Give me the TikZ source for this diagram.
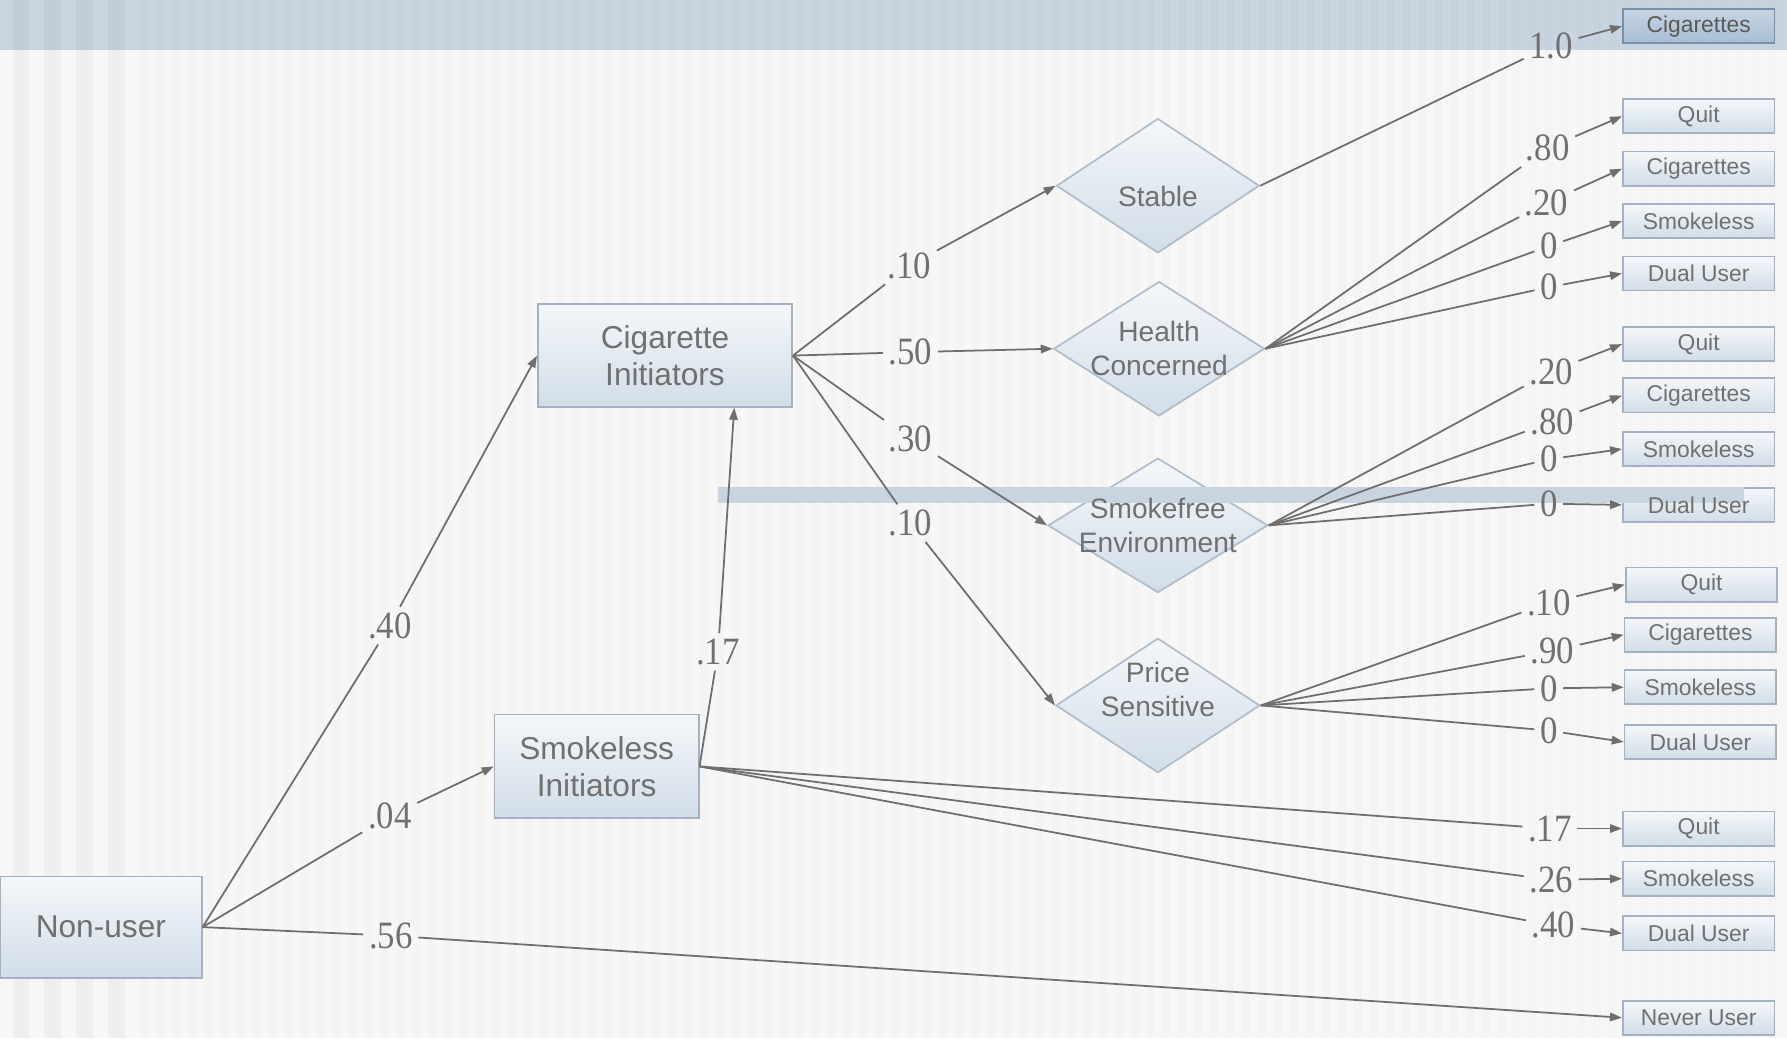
\documentclass[tikz,border=0pt]{standalone}
\usepackage{fontspec}
\setmainfont{Liberation Sans}
\newfontfamily\numfont[FakeStretch=0.9]{Liberation Serif}
\usetikzlibrary{arrows.meta,shapes.geometric}
\definecolor{bgG}{HTML}{F7F7F7}
\definecolor{bandB}{HTML}{C8D5E1}
\definecolor{lineG}{HTML}{6E6E6E}
\definecolor{textG}{HTML}{707070}
\definecolor{boxT}{HTML}{F4F7FA}
\definecolor{boxB}{HTML}{D1DDE8}
\definecolor{boxE}{HTML}{A2B2C3}
\definecolor{topT}{HTML}{C6D5E4}
\definecolor{topB}{HTML}{A8BCD2}
\definecolor{topE}{HTML}{7891AB}
\newdimen\upx \upx=0.11397mm

\tikzset{
  bigbox/.style={rectangle,draw=boxE,line width=0.5pt,top color=boxT,bottom color=boxB,text=textG,
    font=\fontsize{9}{10.4}\selectfont,align=center,inner sep=0pt},
  endbox/.style={rectangle,draw=boxE,line width=0.5pt,top color=boxT,bottom color=boxB,text=textG,
    font=\fontsize{6.5}{7}\selectfont,minimum width=133\upx,minimum height=30\upx,inner sep=0pt},
  topbox/.style={endbox,draw=topE,top color=topT,bottom color=topB,text=black!65},
  diam/.style={diamond,draw=boxE!85,line width=0.5pt,top color=boxT,bottom color=boxB,
    minimum width=182\upx,minimum height=118\upx,inner sep=0pt},
  dtext/.style={text=textG,font=\fontsize{8}{9.7}\selectfont,align=center,inner sep=0pt},
  etext/.style={text=textG,font=\fontsize{6.5}{7}\selectfont,inner sep=0pt},
  num/.style={text=textG,font=\numfont\fontsize{11}{12}\selectfont,inner sep=0.5mm},
  conn/.style={draw=lineG,line width=0.5pt},
  arr/.style={conn,->},
}

\begin{document}
\begin{tikzpicture}[x=0.11397mm,y=-0.11397mm,>={Triangle[length=1.2mm,width=0.85mm]}]
\useasboundingbox (0,0) rectangle (1568,911);
% background
\fill[bgG] (0,0) rectangle (1568,911);
\fill[bandB] (0,0) rectangle (1568,43.5);
\foreach \sx in {11,39,67,95} \fill[black,opacity=0.03] (\sx,0) rectangle ++(14.5,911);
\foreach \sx in {124,138,...,1560} \fill[black,opacity=0.012] (\sx,0) rectangle ++(7,911);

% stages
\node[bigbox,minimum width=177\upx,minimum height=89\upx] (nonuser) at (88.5,813.5) {Non-user};
\node[bigbox,minimum width=223\upx,minimum height=90\upx] (cigini) at (583.5,312) {Cigarette\\Initiators};
\node[bigbox,minimum width=179\upx,minimum height=91\upx] (smkini) at (523.5,672.5) {Smokeless\\Initiators};
\node[diam,minimum width=178\upx,label={[dtext,yshift=-9\upx]center:Stable}] (stable) at (1016,163) {};
\node[diam,minimum width=185\upx,label={[dtext]center:Health\\Concerned}] (health) at (1017,306) {};
\node[diam,minimum width=193\upx] (smokefree) at (1016,461) {};
\node[diam,minimum width=179\upx,label={[dtext,yshift=14\upx]center:Price\\Sensitive}] (price) at (1016,619) {};

% outcomes
\node[topbox] (stCig) at (1490.5,23) {Cigarettes};
\node[endbox] (hcQuit) at (1490.5,102) {Quit};
\node[endbox] (hcCig) at (1490.5,148) {Cigarettes};
\node[endbox] (hcSmk) at (1490.5,194) {Smokeless};
\node[endbox] (hcDual) at (1490.5,240) {Dual User};
\node[endbox] (sfQuit) at (1490.5,302) {Quit};
\node[endbox] (sfCig) at (1490.5,347) {Cigarettes};
\node[endbox] (sfSmk) at (1490.5,394) {Smokeless};
\node[endbox] (sfDual) at (1490.5,443) {};
\node[endbox] (psQuit) at (1493,513) {Quit};
\node[endbox] (psCig) at (1492,557) {Cigarettes};
\node[endbox] (psSmk) at (1492,603) {Smokeless};
\node[endbox] (psDual) at (1492,651) {Dual User};
\node[endbox] (siQuit) at (1490.5,727) {Quit};
\node[endbox] (siSmk) at (1490.5,771) {Smokeless};
\node[endbox] (siDual) at (1490.5,819) {Dual User};
\node[endbox] (never) at (1490.5,893) {Never User};

% stripe across the smokefree row
\fill[bandB] (630,427) rectangle (1530,441);
\node[dtext] at (smokefree) {Smokefree\\Environment};
\node[etext] at (sfDual) {Dual User};

% probabilities
\node[num] (p40) at (342,549) {.40};
\node[num] (p04) at (342,716) {.04};
\node[num] (p56) at (343,821) {.56};
\node[num] (p17) at (630,572) {.17};
\node[num] (pSt) at (798,233) {.10};
\node[num] (pHe) at (799,309) {.50};
\node[num] (pSf) at (799,385) {.30};
\node[num] (pPr) at (799,459) {.10};
\node[num] (qSt) at (1361,40) {1.0};
\node[num] (qHq) at (1358,130) {.80};
\node[num] (qHc) at (1357,178) {.20};
\node[num] (qHs) at (1359,216) {0};
\node[num] (qHd) at (1359,252) {0};
\node[num] (qSq) at (1361,326) {.20};
\node[num] (qSc) at (1362,370) {.80};
\node[num] (qSs) at (1359,403) {0};
\node[num] (qSd) at (1359,442) {0};
\node[num] (qPq) at (1359,529) {.10};
\node[num] (qPc) at (1362,571) {.90};
\node[num] (qPs) at (1359,604) {0};
\node[num] (qPd) at (1359,641) {0};
\node[num] (qIq) at (1360,727) {.17};
\node[num] (qIs) at (1361,772) {.26};
\node[num] (qId) at (1363,812) {.40};

% connectors
\draw[conn] (nonuser.east) -- (p40); \draw[arr] (p40) -- (cigini.west);
\draw[conn] (nonuser.east) -- (p04); \draw[arr] (p04) -- (smkini.west);
\draw[conn] (nonuser.east) -- (p56); \draw[arr] (p56) -- (never.west);
\draw[conn] (smkini.east) -- (p17); \draw[arr] (p17) -- (cigini.-37);
\foreach \p/\d in {pSt/stable,pHe/health,pSf/smokefree,pPr/price}
  {\draw[conn] (cigini.east) -- (\p); \draw[arr] (\p) -- (\d.west);}
\draw[conn] (stable.east) -- (qSt); \draw[arr] (qSt) -- (stCig.west);
\foreach \p/\d in {qHq/hcQuit,qHc/hcCig,qHs/hcSmk,qHd/hcDual}
  {\draw[conn] (health.east) -- (\p); \draw[arr] (\p) -- (\d.west);}
\foreach \p/\d in {qSq/sfQuit,qSc/sfCig,qSs/sfSmk,qSd/sfDual}
  {\draw[conn] (smokefree.east) -- (\p); \draw[arr] (\p) -- (\d.west);}
\foreach \p/\d in {qPq/psQuit,qPc/psCig,qPs/psSmk,qPd/psDual}
  {\draw[conn] (price.east) -- (\p); \draw[arr] (\p) -- (\d.west);}
\foreach \p/\d in {qIq/siQuit,qIs/siSmk,qId/siDual}
  {\draw[conn] (smkini.east) -- (\p); \draw[arr] (\p) -- (\d.west);}
\end{tikzpicture}
\end{document}
